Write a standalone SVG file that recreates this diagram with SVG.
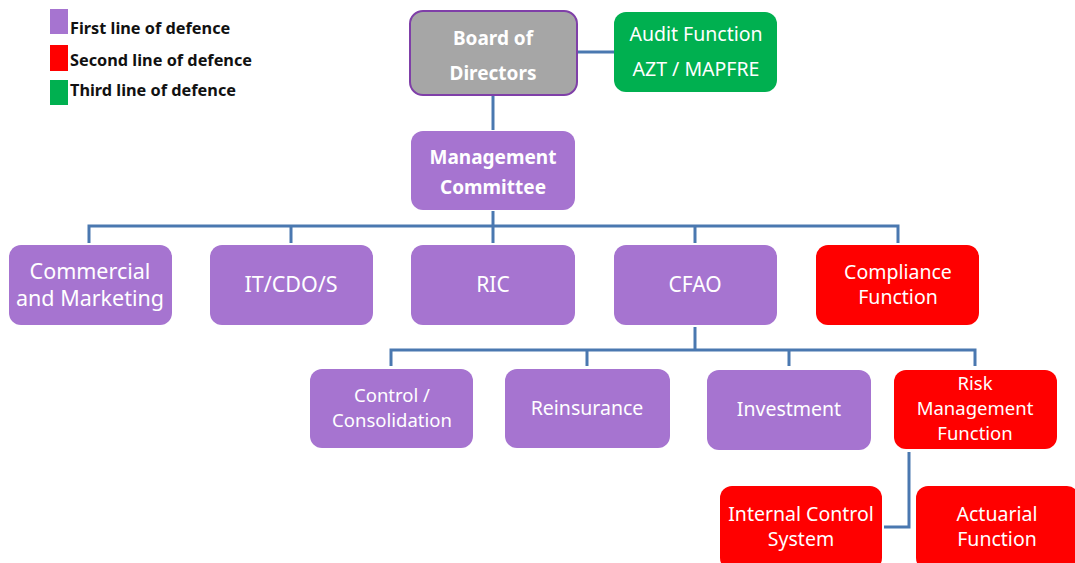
<svg xmlns="http://www.w3.org/2000/svg" width="1075" height="563" viewBox="0 0 1075 563">
<style>
.p{fill:#A674D0}
.r{fill:#FF0000}
.g{fill:#00B050}
.t{font-family:"Noto Sans","Open Sans",sans-serif;fill:#fff;text-anchor:middle;font-size:19.5px}
.s{font-size:18.5px}
.b{font-weight:bold;font-size:19px}
.lg{font-family:"Noto Sans","Open Sans",sans-serif;font-weight:bold;font-size:16.3px;fill:#111}
.c{fill:none;stroke:#4A78B0;stroke-width:3}
</style>
<rect width="1075" height="563" fill="#fff"/>
<g id="legend">
<rect x="50" y="9" width="18" height="25" class="p"/>
<rect x="50" y="45" width="18" height="26" class="r"/>
<rect x="50" y="80" width="18" height="25" class="g"/>
<text x="70" y="34" class="lg">First line of defence</text>
<text x="70" y="66" class="lg">Second line of defence</text>
<text x="70" y="96" class="lg">Third line of defence</text>
</g>
<g id="connectors">
<path class="c" d="M578 52H616"/>
<path class="c" d="M493 96V130"/>
<path class="c" d="M493 211V226"/>
<path class="c" d="M89 243V226H898V243"/>
<path class="c" d="M291 226V243M493 226V243M695 226V243"/>
<path class="c" d="M695 327V350"/>
<path class="c" d="M391 366V350H975V366"/>
<path class="c" d="M587 350V366M789 350V366"/>
<path class="c" d="M909 452V527H884"/>
</g>
<g id="board">
<rect x="410" y="11" width="167" height="84" rx="13" fill="#A6A6A6" stroke="#7F3FA8" stroke-width="2"/>
<text x="493" y="45" class="t b">Board of</text>
<text x="493" y="80" class="t b">Directors</text>
</g>
<g id="audit">
<rect x="614" y="12" width="163" height="80" rx="12" class="g"/>
<text x="696" y="41" class="t">Audit Function</text>
<text x="696" y="76" class="t">AZT / MAPFRE</text>
</g>
<g id="mgmt">
<rect x="411" y="131" width="164" height="79" rx="12" class="p"/>
<text x="493" y="164" class="t b">Management</text>
<text x="493" y="194" class="t b">Committee</text>
</g>
<g id="commercial">
<rect x="9" y="245" width="163" height="80" rx="12" class="p"/>
<text x="90" y="279" class="t" style="font-size:21.5px">Commercial</text>
<text x="90" y="306" class="t" style="font-size:21.5px">and Marketing</text>
</g>
<g id="it">
<rect x="210" y="245" width="163" height="80" rx="12" class="p"/>
<text x="291" y="292" class="t" style="font-size:21.5px">IT/CDO/S</text>
</g>
<g id="ric">
<rect x="411" y="245" width="164" height="80" rx="12" class="p"/>
<text x="493" y="292" class="t" style="font-size:21px">RIC</text>
</g>
<g id="cfao">
<rect x="614" y="245" width="163" height="80" rx="12" class="p"/>
<text x="695" y="292" class="t" style="font-size:21px">CFAO</text>
</g>
<g id="compliance">
<rect x="816" y="245" width="163" height="80" rx="12" class="r"/>
<text x="898" y="279" class="t">Compliance</text>
<text x="898" y="304" class="t">Function</text>
</g>
<g id="control">
<rect x="310" y="369" width="163" height="79" rx="12" class="p"/>
<text x="392" y="402" class="t s">Control /</text>
<text x="392" y="427" class="t s">Consolidation</text>
</g>
<g id="reinsurance">
<rect x="505" y="369" width="165" height="79" rx="12" class="p"/>
<text x="587" y="415" class="t">Reinsurance</text>
</g>
<g id="investment">
<rect x="707" y="370" width="164" height="80" rx="12" class="p"/>
<text x="789" y="416" class="t">Investment</text>
</g>
<g id="risk">
<rect x="894" y="370" width="163" height="79" rx="12" class="r"/>
<text x="975" y="390" class="t s">Risk</text>
<text x="975" y="415" class="t s">Management</text>
<text x="975" y="440" class="t s">Function</text>
</g>
<g id="internal">
<rect x="720" y="486" width="162" height="84" rx="12" class="r"/>
<text x="801" y="521" class="t">Internal Control</text>
<text x="801" y="546" class="t">System</text>
</g>
<g id="actuarial">
<rect x="916" y="486" width="163" height="84" rx="12" class="r"/>
<text x="997" y="521" class="t">Actuarial</text>
<text x="997" y="546" class="t">Function</text>
</g>
</svg>
